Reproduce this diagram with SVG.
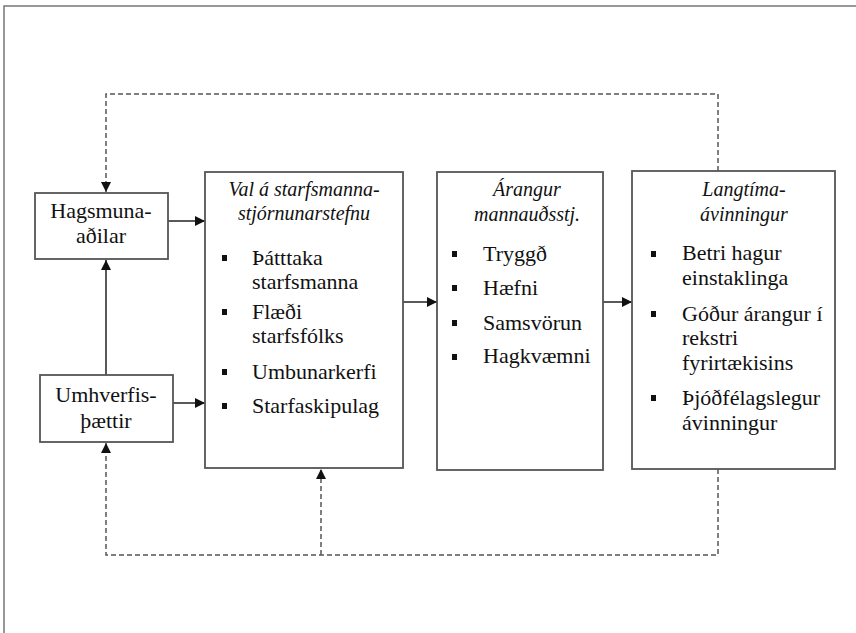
<svg xmlns="http://www.w3.org/2000/svg" width="856" height="633" viewBox="0 0 856 633">
<defs>
<style>
.frame{fill:none;stroke:#777;stroke-width:1.5}
.box{fill:#fff;stroke:#555;stroke-width:1.8}
text{font-family:"Liberation Serif","Times New Roman",serif;fill:#111}
.t{font-size:22px}
.ti{font-size:20px;font-style:italic;text-anchor:middle}
.c{text-anchor:middle}
.bul{fill:#111}
.solid{fill:none;stroke:#222;stroke-width:1.5}
.dash{fill:none;stroke:#555;stroke-width:1.5;stroke-dasharray:5 3}
</style>
<marker id="ah" viewBox="0 0 10 10" refX="10" refY="5" markerWidth="10" markerHeight="10" markerUnits="userSpaceOnUse" orient="auto">
<path d="M0,0 L10,5 L0,10 z" fill="#111"/>
</marker>
</defs>
<rect width="856" height="633" fill="#fff"/>
<rect class="frame" x="4" y="6" width="870" height="640"/>

<g id="connectors">
<polyline class="dash" points="718,171 718,94 106,94 106,192" marker-end="url(#ah)"/>
<polyline class="dash" points="718,469 718,555 106,555 106,443" marker-end="url(#ah)"/>
<line class="dash" x1="321" y1="555" x2="321" y2="469" marker-end="url(#ah)"/>
<line class="solid" x1="106" y1="375" x2="106" y2="260" marker-end="url(#ah)"/>
<line class="solid" x1="168" y1="221" x2="205" y2="221" marker-end="url(#ah)"/>
<line class="solid" x1="173" y1="403" x2="205" y2="403" marker-end="url(#ah)"/>
<line class="solid" x1="403" y1="302" x2="437" y2="302" marker-end="url(#ah)"/>
<line class="solid" x1="603" y1="302" x2="632" y2="302" marker-end="url(#ah)"/>
</g>

<g id="hagsmunaadilar">
<rect class="box" x="35" y="193" width="133" height="66"/>
<text class="t c" x="101" y="218">Hagsmuna-</text>
<text class="t c" x="101" y="243">aðilar</text>
</g>

<g id="umhverfisthaettir">
<rect class="box" x="40" y="375" width="133" height="67"/>
<text class="t c" x="106" y="402">Umhverfis-</text>
<text class="t c" x="106" y="428">þættir</text>
</g>

<g id="val">
<rect class="box" x="205" y="172" width="198" height="296"/>
<text class="ti" x="304" y="196">Val á starfsmanna-</text>
<text class="ti" x="304" y="220">stjórnunarstefnu</text>
<rect class="bul" x="222" y="255" width="5" height="6"/>
<text class="t" x="252" y="265">Þátttaka</text>
<text class="t" x="252" y="289">starfsmanna</text>
<rect class="bul" x="222" y="309" width="5" height="6"/>
<text class="t" x="252" y="319">Flæði</text>
<text class="t" x="252" y="343">starfsfólks</text>
<rect class="bul" x="222" y="369" width="5" height="6"/>
<text class="t" x="252" y="379">Umbunarkerfi</text>
<rect class="bul" x="222" y="403" width="5" height="6"/>
<text class="t" x="252" y="413">Starfaskipulag</text>
</g>

<g id="arangur">
<rect class="box" x="437" y="172" width="166" height="298"/>
<text class="ti" x="527" y="196">Árangur</text>
<text class="ti" x="527" y="221">mannauðsstj.</text>
<rect class="bul" x="452" y="251" width="5" height="6"/>
<text class="t" x="483" y="261">Tryggð</text>
<rect class="bul" x="452" y="285" width="5" height="6"/>
<text class="t" x="483" y="295">Hæfni</text>
<rect class="bul" x="452" y="320" width="5" height="6"/>
<text class="t" x="483" y="330">Samsvörun</text>
<rect class="bul" x="452" y="354" width="5" height="6"/>
<text class="t" x="483" y="363">Hagkvæmni</text>
</g>

<g id="langtima">
<rect class="box" x="632" y="171" width="203" height="298"/>
<text class="ti" x="744" y="196">Langtíma-</text>
<text class="ti" x="744" y="221">ávinningur</text>
<rect class="bul" x="651" y="251" width="5" height="6"/>
<text class="t" x="682" y="260">Betri hagur</text>
<text class="t" x="682" y="285">einstaklinga</text>
<rect class="bul" x="651" y="311" width="5" height="6"/>
<text class="t" x="682" y="321">Góður árangur  í</text>
<text class="t" x="682" y="345">rekstri</text>
<text class="t" x="682" y="370">fyrirtækisins</text>
<rect class="bul" x="651" y="395" width="5" height="6"/>
<text class="t" x="682" y="405">Þjóðfélagslegur</text>
<text class="t" x="682" y="430">ávinningur</text>
</g>
</svg>
